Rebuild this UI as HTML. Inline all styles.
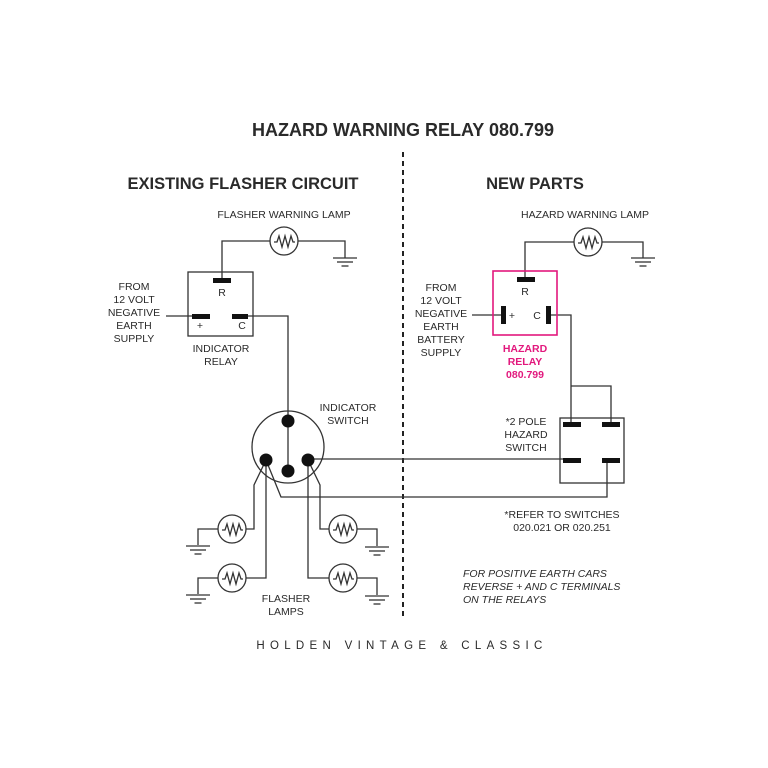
<!DOCTYPE html>
<html><head><meta charset="utf-8"><style>
html,body{margin:0;padding:0;background:#fff}
svg{display:block}
text{font-family:"Liberation Sans",Arial,sans-serif;fill:#2a2a2a}
</style></head><body>
<svg width="768" height="768" viewBox="0 0 768 768" xmlns="http://www.w3.org/2000/svg">
<defs>
<g id="lamp"><circle cx="0" cy="0" r="14" fill="#fff" stroke="#333" stroke-width="1.3"/><polyline points="-10,1 -7,1 -5,-5 -2,6 1,-5 4,6 7,-5 9,1 11,1" fill="none" stroke="#333" stroke-width="1.3"/></g>
<g id="gnd" stroke="#333" stroke-width="1.3"><line x1="-12" y1="0" x2="12" y2="0"/><line x1="-8" y1="4" x2="8" y2="4"/><line x1="-3.5" y1="8" x2="3.5" y2="8"/></g>
</defs>
<text x="403" y="136" font-size="18" font-weight="bold" text-anchor="middle">HAZARD WARNING RELAY 080.799</text>
<text x="243" y="189" font-size="16.5" font-weight="bold" text-anchor="middle">EXISTING FLASHER CIRCUIT</text>
<text x="535" y="189" font-size="16.5" font-weight="bold" text-anchor="middle">NEW PARTS</text>
<line x1="403" y1="152" x2="403" y2="617" stroke="#222" stroke-width="2" stroke-dasharray="5,4"/>

<g fill="none" stroke="#333" stroke-width="1.3">
<polyline points="270,241 222,241 222,280"/>
<polyline points="298,241 345,241 345,258"/>
<rect x="188" y="272" width="65" height="64"/>
<line x1="166" y1="316" x2="192" y2="316"/>
<polyline points="248,316 288,316 288,421"/>
<circle cx="288" cy="447" r="36"/>
<line x1="288" y1="421" x2="288" y2="471"/>
<line x1="308" y1="459" x2="565" y2="459"/>
<polyline points="266,460 281,497 607,497 607,460"/>
<polyline points="266,460 254,485 254,529 246,529"/>
<polyline points="266,460 266,578 246,578"/>
<polyline points="308,460 320,485 320,529 329,529"/>
<polyline points="308,460 308,578 329,578"/>
<polyline points="218,529 198,529 198,545"/>
<polyline points="218,578 198,578 198,594"/>
<polyline points="357,529 377,529 377,546"/>
<polyline points="357,578 377,578 377,595"/>
<polyline points="574,242 525,242 525,279"/>
<polyline points="602,242 643,242 643,258"/>
<line x1="472" y1="315" x2="503" y2="315"/>
<polyline points="548,315 571,315 571,424"/>
<polyline points="571,386 611,386 611,424"/>
<rect x="560" y="418" width="64" height="65"/>
</g>
<rect x="493" y="271" width="64" height="64" fill="none" stroke="#e2187d" stroke-width="1.6"/>

<g fill="#111">
<rect x="213" y="278" width="18" height="5"/>
<rect x="192" y="314" width="18" height="5"/>
<rect x="232" y="314" width="16" height="5"/>
<circle cx="288" cy="421" r="6.5"/><circle cx="266" cy="460" r="6.5"/><circle cx="308" cy="460" r="6.5"/><circle cx="288" cy="471" r="6.5"/>
<rect x="517" y="277" width="18" height="5"/>
<rect x="501" y="306" width="5" height="18"/>
<rect x="546" y="306" width="5" height="18"/>
<rect x="563" y="422" width="18" height="5"/><rect x="602" y="422" width="18" height="5"/>
<rect x="563" y="458" width="18" height="5"/><rect x="602" y="458" width="18" height="5"/>
</g>

<use href="#lamp" x="284" y="241"/>
<use href="#lamp" x="588" y="242"/>
<use href="#lamp" x="232" y="529"/>
<use href="#lamp" x="232" y="578"/>
<use href="#lamp" x="343" y="529"/>
<use href="#lamp" x="343" y="578"/>
<use href="#gnd" x="345" y="258"/>
<use href="#gnd" x="643" y="258"/>
<use href="#gnd" x="198" y="546"/>
<use href="#gnd" x="198" y="595"/>
<use href="#gnd" x="377" y="547"/>
<use href="#gnd" x="377" y="596"/>

<g font-size="10.5" text-anchor="middle">
<text x="284" y="218">FLASHER WARNING LAMP</text>
<text x="222" y="296">R</text>
<text x="200" y="329">+</text>
<text x="242" y="329">C</text>
<text x="134" y="290">FROM</text>
<text x="134" y="303">12 VOLT</text>
<text x="134" y="316">NEGATIVE</text>
<text x="134" y="329">EARTH</text>
<text x="134" y="342">SUPPLY</text>
<text x="221" y="352">INDICATOR</text>
<text x="221" y="365">RELAY</text>
<text x="348" y="411">INDICATOR</text>
<text x="348" y="424">SWITCH</text>
<text x="286" y="602">FLASHER</text>
<text x="286" y="615">LAMPS</text>
<text x="585" y="218">HAZARD WARNING LAMP</text>
<text x="525" y="295">R</text>
<text x="512" y="319">+</text>
<text x="537" y="319">C</text>
<text x="441" y="291">FROM</text>
<text x="441" y="304">12 VOLT</text>
<text x="441" y="317">NEGATIVE</text>
<text x="441" y="330">EARTH</text>
<text x="441" y="343">BATTERY</text>
<text x="441" y="356">SUPPLY</text>
<text x="526" y="425">*2 POLE</text>
<text x="526" y="438">HAZARD</text>
<text x="526" y="451">SWITCH</text>
<text x="562" y="518">*REFER TO SWITCHES</text>
<text x="562" y="531">020.021 OR 020.251</text>
</g>
<g font-size="10.5" font-weight="bold" text-anchor="middle">
<text x="525" y="352" style="fill:#e2187d">HAZARD</text>
<text x="525" y="365" style="fill:#e2187d">RELAY</text>
<text x="525" y="378" style="fill:#e2187d">080.799</text>
</g>
<g font-size="10.5" font-style="italic">
<text x="463" y="577">FOR  POSITIVE  EARTH  CARS</text>
<text x="463" y="590">REVERSE + AND C TERMINALS</text>
<text x="463" y="603">ON THE RELAYS</text>
</g>
<text x="402" y="649" font-size="11.5" text-anchor="middle" letter-spacing="5.3">HOLDEN VINTAGE &amp; CLASSIC</text>
</svg>
</body></html>
